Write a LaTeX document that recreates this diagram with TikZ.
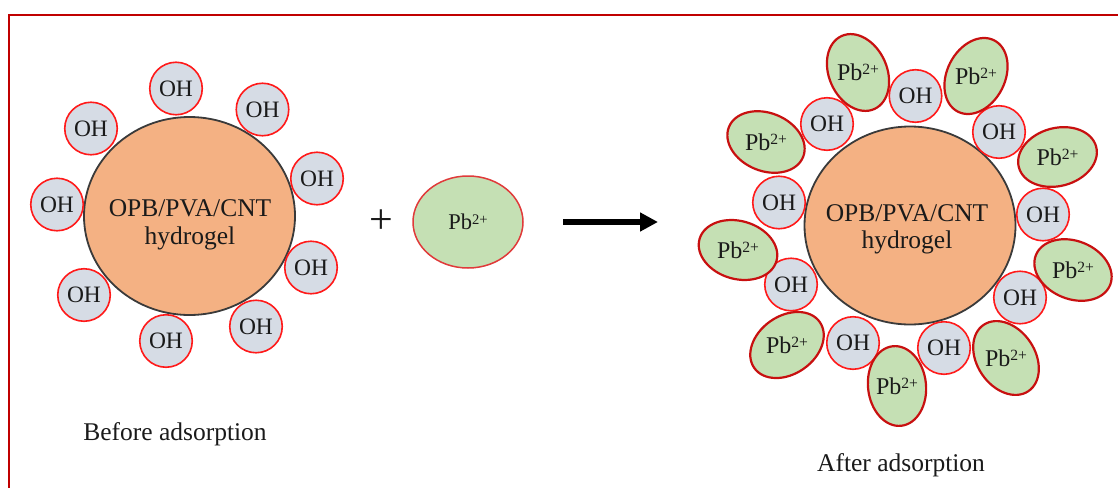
\documentclass[tikz,border=0pt]{standalone}
\usepackage{fontspec}
\usepackage{graphicx}
\setmainfont{Liberation Serif}
\usetikzlibrary{shapes.geometric,arrows.meta}
\definecolor{framered}{HTML}{C00000}
\definecolor{corefill}{HTML}{F4B183}
\definecolor{coreline}{HTML}{3A3A3A}
\definecolor{ohfill}{HTML}{D6DCE5}
\definecolor{ohline}{HTML}{FF1A1A}
\definecolor{pbfill}{HTML}{C5E0B4}
\definecolor{pbline}{HTML}{C81010}
\definecolor{pbmid}{HTML}{E03A3A}
\definecolor{txt}{HTML}{1A1A1A}
\newcommand\pbion{Pb\raisebox{.24em}{\scalebox{.65}{2+}}}
\begin{document}
\begin{tikzpicture}[x=1pt,y=-1pt,
  core/.style={ellipse, draw=coreline, line width=1.8pt, fill=corefill,
    minimum width=211pt, minimum height=198pt, inner sep=0pt},
  coretext/.style={anchor=base, font=\fontsize{25.5}{28}\selectfont, text=txt, inner sep=0pt},
  oh/.style={circle, draw=ohline, line width=1.6pt, fill=ohfill,
    minimum size=52.5pt, inner sep=0pt, font=\fontsize{23.5}{26}\selectfont, text=txt},
  pbshape/.style={ellipse, draw=pbline, line width=2.2pt, fill=pbfill,
    minimum width=80pt, minimum height=58pt, inner sep=0pt},
  pblabel/.style={font=\fontsize{24}{26}\selectfont, text=txt, inner sep=0pt},
  caption/.style={anchor=base, font=\fontsize{25.5}{28}\selectfont, text=txt, inner sep=0pt}]
\useasboundingbox (0,0) rectangle (1118,487);
\fill[white] (0,0) rectangle (1118,487);
% frame
\draw[framered, line width=2.5pt] (1120,15) -- (9,15) -- (9,490);

% ---------- before adsorption ----------
\node[core] (coreL) at (189.5,216) {};
\node[coretext] (coreLa) at (190,216) {OPB/PVA/CNT};
\node[coretext] (coreLb) at (190,244) {hydrogel};
\node[oh] (la) at (176,88.5) {OH};
\node[oh] (lb) at (91,128.5) {OH};
\node[oh] (lc) at (262.5,109.5) {OH};
\node[oh] (ld) at (317,178.5) {OH};
\node[oh] (le) at (57,204.5) {OH};
\node[oh] (lf) at (311,267.5) {OH};
\node[oh] (lg) at (84,295) {OH};
\node[oh] (lh) at (256,326.5) {OH};
\node[oh] (li) at (166,341) {OH};
\node[caption] (before) at (175,440) {Before adsorption};

% ---------- plus, ion, arrow ----------
\node[font=\fontsize{42}{44}\selectfont, text=txt, inner sep=0pt] (plus) at (381,222) {+};
\node[ellipse, draw=pbmid, line width=1.5pt, fill=pbfill, minimum width=110pt,
  minimum height=92pt, inner sep=0pt, font=\fontsize{22.5}{24}\selectfont, text=txt] (ion) at (468,222) {\pbion};
\coordinate (arrS) at (563,222);
\coordinate (arrE) at (658,222);
\draw[line width=5.5pt, black, -{Triangle[length=18pt,width=18pt]}] (arrS) -- (arrE);

% ---------- after adsorption ----------
\node[core] (coreR) at (910,225.5) {};
\node[coretext] (coreRa) at (907,221) {OPB/PVA/CNT};
\node[coretext] (coreRb) at (907,248) {hydrogel};
\node[oh] (rA) at (827,124) {OH};
\node[oh] (rB) at (915.5,96) {OH};
\node[oh] (rC) at (999,132) {OH};
\node[oh] (rD) at (779,202.5) {OH};
\node[oh] (rE) at (1043,214.5) {OH};
\node[oh] (rF) at (791,284.5) {OH};
\node[oh] (rG) at (1020,297.5) {OH};
\node[oh] (rH) at (853,343) {OH};
\node[oh] (rI) at (944,348) {OH};

\node[pbshape, rotate=-22] (p1) at (766,142) {};
\node[pbshape, rotate=-66] (p2) at (858,72.5) {};
\node[pbshape, rotate=63] (p3) at (976,76) {};
\node[pbshape, rotate=15] (p4) at (1057.5,157) {};
\node[pbshape, rotate=-16] (p5) at (738,250) {};
\node[pbshape, rotate=-22] (p6) at (1073,270) {};
\node[pbshape, rotate=35] (p7) at (787,345) {};
\node[pbshape, rotate=-84] (p8) at (897,386) {};
\node[pbshape, rotate=-56] (p9) at (1006,358) {};
\node[pblabel] (p1t) at (p1) {\pbion};
\node[pblabel] (p2t) at (p2) {\pbion};
\node[pblabel] (p3t) at (p3) {\pbion};
\node[pblabel] (p4t) at (p4) {\pbion};
\node[pblabel] (p5t) at (p5) {\pbion};
\node[pblabel] (p6t) at (p6) {\pbion};
\node[pblabel] (p7t) at (p7) {\pbion};
\node[pblabel] (p8t) at (p8) {\pbion};
\node[pblabel] (p9t) at (p9) {\pbion};
\node[caption] (after) at (901,471) {After adsorption};
\end{tikzpicture}
\end{document}
